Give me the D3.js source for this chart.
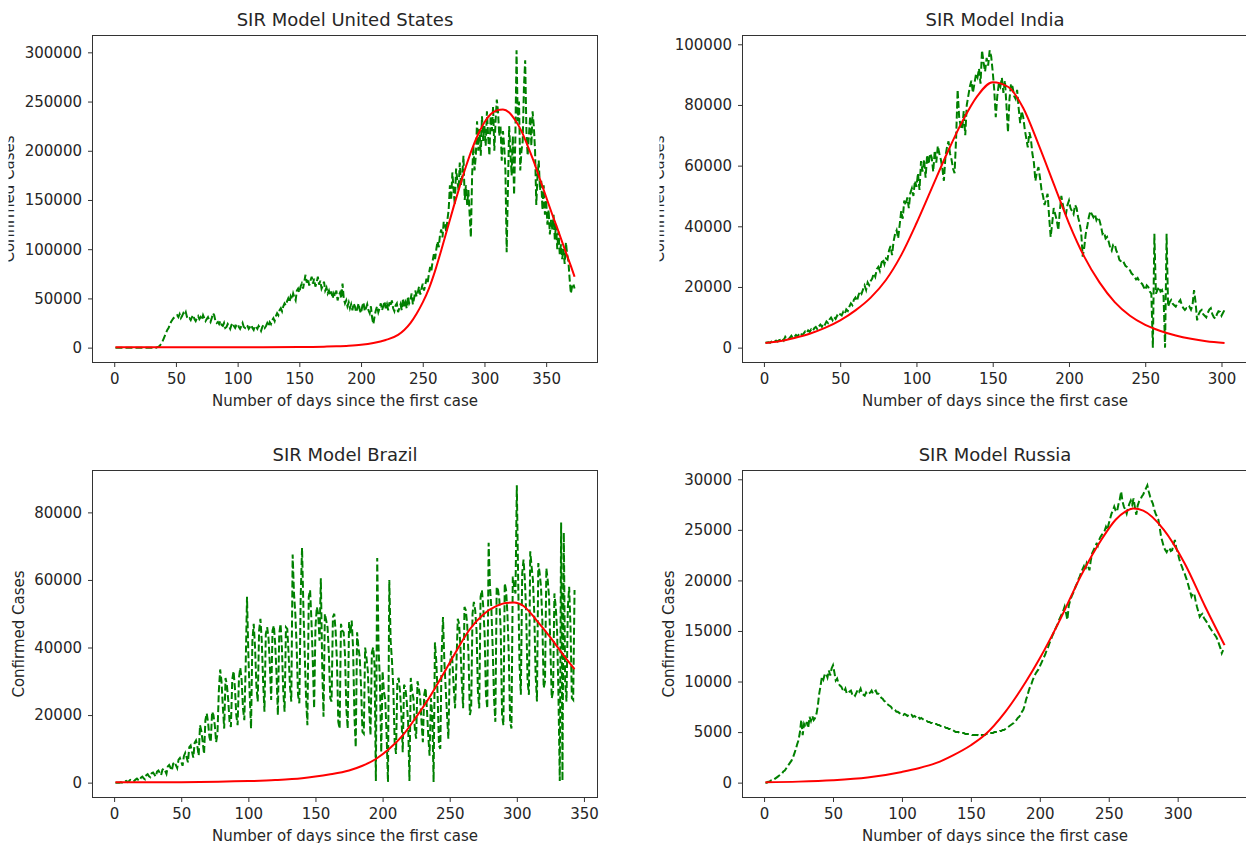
<!DOCTYPE html>
<html>
<head>
<meta charset="utf-8">
<script src="https://cdn.jsdelivr.net/npm/d3@7"></script>
<style>
  html, body { margin: 0; padding: 0; background: #fff; overflow: hidden; }
  svg { display: block; font-family: "DejaVu Sans", sans-serif; }
</style>
</head>
<body>
<svg id="chart" width="1246" height="843"></svg>
<script>
// Daily new confirmed cases (thousands), day 1 = first case.
const usDailyK = [
  0,0,0,0,0,0,0,0,0,0, 0,0,0,0,0,0,0,0,0,0, 0,0,0,0,0,0,0,0,0,0, 0,0,0,0,
  0.5,1,2,4,6,9,12,15,18,20,23,26,28,30,31,32,
  33,31,34,30,32,35,33,36,31,29,30,28,31,33,29,27,30,32,29,31,28,33,30,27,29,31,28,26,30,35,
  33,27,25,26,24,27,23,22,25,20, 21,24,22,19,23,25,22,20,23,24, 21,19,22,25,21,20,23,22,19,21,
  23,20,18,22,21,19,22,20,17,21, 23,20,22,25,22,
  26,24,28,30,27,32,35,33,38,40,37,42,45,43,47,50,46,52,49,55,51,48,58,60,56,62,65,60,67,74,
  66,70,63,68,72,65,70,62,66,72,64,68,60,63,67,58,61,55,58,53,57,50,55,52,58,48,53,56,50,65,
  50,45,48,42,46,40,44,38,45,42,36,40,45,38,35,42,46,37,40,44,38,35,42,30,24,32,38,42,36,40,
  45,38,42,47,40,44,38,46,42,48,40,37,43,45,36,40,44,38,50,42,46,40,52,45,48,55,44,50,58,52,
  56,62,54,60,65,58,63,70,66,75,82,78,88,95,90,100,108,102,115,120,112,128,125,118,130,
  140,165,150,178,160,145,182,170,160,188,165,175,195,150,165,145,160,135,112,175,
  205,180,195,230,200,222,195,235,210,225,
  205,240,215,195,235,220,245,200,230,252, 240,215,225,190,220,205,180,97,160,225,
  200,175,215,155,210,302,230,250,180,200, 210,265,292,220,195,215,235,205,240,225,
  200,145,175,190,160,170,140,165,135,150, 125,140,115,130,120,135,110,125,100,118,
  95,105,90,100,85,107,95,88,70,55, 62,65,60
];
const indiaDailyK = [
  1.6,1.7,1.8,1.6,2.0,1.9,2.1,2.3,2.0,2.5, 2.6,3.1,2.4,3.6,2.9,2.7,3.3,3.9,3.1,3.6,
  4.2,3.7,4.4,4.9,4.1,4.6,5.3,4.8,5.7,5.2, 6.0,5.5,6.4,6.8,6.1,7.0,7.6,6.9,8.1,7.6,
  8.6,8.1,9.3,9.9,9.0,10.1,9.5,10.6,10.1,11.0, 10.6,11.8,11.2,12.6,12.1,13.5,14.6,14.0,15.8,16.5,
  15.4,17.3,18.6,17.8,19.2,20.5,19.0,21.5,20.6,22.0, 22.8,24.5,23.4,25.9,26.6,25.3,27.8,29.2,27.5,29.4,
  29.0,32.0,33.5,30.5,35.0,37.5,38.7,36.0,40.5,45.0, 42.5,48.5,47.0,49.5,46.0,51.0,52.5,50.0,55.0,53.0,
  57.5,52.0,61.5,58.0,62.0,56.0,63.5,60.5,64.0,62.7, 58.0,65.0,61.0,66.5,64.0,62.0,59.0,55.0,63.0,66.0,
  68.0,64.0,62.0,59.0,57.5,69.0,85.0,76.0,73.0,72.0, 78.0,70.0,80.0,83.0,86.0,88.0,84.0,87.0,90.0,89.0,
  92.0,87.0,98.0,94.0,91.0,95.5,93.0,98.0,96.0,91.0, 85.0,76.0,83.0,87.0,86.0,89.0,84.0,88.0,80.0,71.0,
  82.0,87.0,86.0,83.0,82.0,85.0,79.0,74.0,78.0,76.0, 72.0,69.0,66.0,71.0,69.0,64.0,61.0,55.0,58.0,59.5,
  56.0,52.0,50.0,47.0,49.0,50.7,43.0,36.5,41.0,46.0, 44.0,42.0,38.7,45.0,50.0,47.0,45.0,44.0,47.0,48.5,
  46.0,45.0,44.0,47.0,46.0,43.0,41.0,38.0,30.0,33.0, 37.5,40.0,43.0,45.0,44.0,43.0,44.0,42.0,43.0,42.0,
  40.0,37.5,38.0,36.0,36.5,35.0,33.0,32.0,34.0,34.0, 32.0,31.0,29.0,28.5,27.7,28.0,27.0,26.6,26.0,25.5,
  24.5,24.0,23.3,22.5,23.0,22.0,21.5,21.0,20.0,19.0, 20.5,20.0,18.5,17.8,0.0,37.5,17.8,19.0,20.0,18.5,
  19.0,17.0,0.0,37.5,13.5,15.0,15.7,14.5,14.0,13.5, 14.5,15.0,15.7,14.0,13.0,12.4,13.0,12.8,13.5,12.5,
  14.0,19.0,15.0,9.0,11.0,12.0,12.4,11.0,10.5,10.0, 11.5,12.5,13.0,11.0,10.0,9.6,11.0,12.0,11.8,10.5,
  11.5,12.4
];
const brazilDailyK = [
  0,0,0,0,0.1,0,0.2, 0.3,0.5,0.2,0.4,0.8,0.6,0.3, 0.5,0.9,1.2,0.8,0.6,1.5,1.8,
  1.3,1.0,2.2,2.5,1.9,1.6,2.8, 3.0,2.4,1.8,3.3,3.6,2.9,2.2, 3.8,4.2,3.5,2.6,4.8,5.2,4.4,
  3.6,5.6,6.1,5.2,4.3,6.8,7.3, 6.2,5.0,7.9,8.8,7.5,6.0,10.5, 11,9.2,7.4,11.8,12.5,10.8,8,
  17,15.2,12,8.5,18.5,20.5,17.8, 13.5,12,21,20,17,12,14.5, 27,33.5,30,22.5,16,31,29,
  24.5,18,16.5,30.5,33,28,20, 17,31,34,30.5,22,18.5,34.5, 55,38,26,16,42,47,40,
  28.5,24,45,48.5,42,30,21, 44,46,43,35,24.5,45,46.5, 41,32,20,44,47,40,27,
  21,46,45.5,38,28.5,24,67.5, 56,50,40,26,23.5,55,69.5, 52,38,25,17,55,57,48,
  36,22,46,52,50,42,60.5, 35,19.5,50,48,46,38,25, 24,49,50,45,36,18,16,
  47,45,44.5,38,22,16,47.5, 44,48,40,20,10.5,44.5,40, 37,28,15,14.5,40,37,33,
  22,14,38.5,40,35,0.5,66.5, 40,30,9,33,27,24.5,14, 0.2,60,42,36,28,12,8.5,
  30,31,27,20,9,29,28, 24,18,0.5,31,27,25,16, 13,30,28,25,18,12,26,
  28,22,14,8,25,20,0.2, 41.5,36,26,11,10,38,49, 36,28,20,13,33,39,36,
  28,22,35,48.5,47,40,30, 22,52,51,47,38,20,22, 50,53.5,51,45,27,22,55,
  57,52,44,26,22,71,58, 52,40,25,18,58,57,54, 45,20,17,59,57,50,38,
  18,16,61,58,56,88,60, 35,26,62,66,60,50,30, 26,68.5,64,60,50,32,24,
  65,62,58,48,28,30,63.5, 60,55,40,25,27,56,52, 45,26,0.5,77,0.5,74,30,
  24,52,58,46,25,24.5,57
];
const russiaDailyK = [
  0.0,0.0,0.1,0.1,0.2,0.2,0.3,0.4,0.5,0.6, 0.7,0.8,0.9,1.1,1.2,1.4,1.6,1.8,2.0,2.2,
  2.5,2.9,3.3,3.8,4.2,5.0,6.2,4.7,5.8,5.5, 6.0,5.4,6.5,6.1,6.6,6.2,6.4,6.8,7.6,8.8,
  9.6,10.5,10.2,10.7,10.8,10.4,11.1,10.6,11.3,11.6, 10.9,10.1,10.3,9.8,9.6,9.5,9.2,9.0,9.3,8.8,
  8.9,9.0,9.1,8.7,8.8,8.6,8.9,9.2,9.0,9.3, 8.8,8.7,8.6,8.9,8.7,8.8,8.9,9.1,8.8,9.0,
  9.1,8.8,8.8,8.6,8.4,8.3,8.1,8.0,7.8,7.7, 7.6,7.5,7.3,7.3,7.2,7.0,7.0,6.9,6.8,6.8,
  6.7,6.8,6.7,6.6,6.7,6.6,6.7,6.5,6.6,6.5, 6.4,6.5,6.3,6.4,6.3,6.2,6.1,6.1,6.0,6.0,
  5.9,5.9,5.8,5.8,5.8,5.7,5.7,5.6,5.6,5.5, 5.5,5.4,5.4,5.3,5.3,5.2,5.2,5.1,5.0,5.0,
  5.0,4.9,4.9,4.9,4.9,4.8,4.8,4.8,4.8,4.8, 4.7,4.7,4.7,4.7,4.7,4.6,4.7,4.7,4.7,4.7,
  4.8,4.8,4.8,4.9,4.9,4.9,5.0,5.0,5.0,5.0, 5.1,5.1,5.2,5.2,5.3,5.4,5.5,5.6,5.7,5.8,
  5.9,6.1,6.2,6.4,6.5,6.7,7.0,7.2,7.6,8.2, 8.6,9.1,9.5,9.8,10.2,10.5,10.8,11.0,11.2,11.5,
  11.8,12.1,12.4,12.7,13.1,13.4,13.8,14.1,14.5,14.8, 15.1,15.4,15.7,16.1,16.4,16.7,17.0,17.4,16.8,16.1,
  17.5,18.0,18.4,18.7,19.0,19.4,19.7,20.1,20.4,20.8, 21.1,21.4,21.0,21.7,21.4,21.0,22.0,22.7,23.0,23.3,
  23.6,23.4,24.0,24.3,24.5,24.7,24.9,25.3,25.0,25.6, 26.1,26.6,26.9,27.3,26.9,26.8,27.5,28.0,28.8,27.8,
  27.3,27.0,26.6,27.2,27.6,27.9,27.5,28.1,27.2,26.5, 27.4,27.8,28.0,28.3,28.5,28.8,29.1,29.4,28.8,28.3,
  27.9,27.6,27.0,26.6,26.3,26.0,25.2,24.3,23.8,23.3, 23.0,22.8,23.1,23.2,22.9,23.0,23.6,24.0,23.2,22.8,
  22.2,21.7,21.4,21.0,20.7,20.3,19.9,19.4,18.9,18.4, 18.7,18.7,18.0,17.4,16.9,16.4,16.6,16.7,16.3,16.1,
  15.9,15.7,15.4,15.2,15.0,14.8,14.6,14.4,14.1,13.7, 13.3,12.8,13.1
];

// Fitted SIR curve (thousands of cases) at selected days.
const usFitDays = [1,50,100,150,170,180,190,200,210,220,230,235,240,245,250,255,260,265,270,275,280,285,290,295,300,305,310,315,320,325,330,335,340,345,350,355,360,365,370,373];
const usFitK    = [0.3,0.3,0.35,0.6,1.0,1.4,2.0,3.0,4.8,7.8,13.0,18.0,25.0,34.5,46,60,78,99,121,143,164,184,202,217,229,237,241,242,239,231,220,205,189,171,153,135,118,100,83,72];
const indiaFitDays = [1,10,20,30,40,50,60,70,80,90,100,110,120,130,140,150,160,170,180,190,200,210,220,230,240,250,260,270,280,290,302];
const indiaFitK    = [1.5,2.1,3.2,4.6,6.5,9.0,12.3,16.5,22.3,30.5,41.0,52.5,64,74.5,83,87.5,86,79,67,54,41,30,21.5,15,10.5,7.5,5.5,4.0,2.9,2.1,1.5];
const brazilFitDays = [1,50,100,120,140,150,160,175,185,195,205,215,225,235,245,255,265,275,285,292,298,305,315,325,335,343];
const brazilFitK    = [0.1,0.15,0.45,0.75,1.3,1.8,2.4,3.6,5.0,7.0,10,14,19.4,25.3,32,39,45.4,49.8,52.3,53.2,53.3,52.3,47.9,43,37.6,33.6];
const russiaFitDays = [1,25,50,75,100,112,125,137,150,160,175,190,200,215,230,245,255,262,268,275,290,305,320,334];
const russiaFitK    = [0.05,0.1,0.23,0.5,1.06,1.42,1.95,2.7,3.7,4.7,7.0,10.0,12.3,16.2,20.5,24.1,26.0,26.8,27.1,26.9,25.0,21.7,17.4,13.6];

// Tick values
const usXTicks = [0,50,100,150,200,250,300,350];
const usYTicks = [0,50000,100000,150000,200000,250000,300000];
const indiaXTicks = [0,50,100,150,200,250,300];
const indiaYTicks = [0,20000,40000,60000,80000,100000];
const brazilXTicks = [0,50,100,150,200,250,300,350];
const brazilYTicks = [0,20000,40000,60000,80000];
const russiaXTicks = [0,50,100,150,200,250,300];
const russiaYTicks = [0,5000,10000,15000,20000,25000,30000];

const panels = [
  { title: "SIR Model United States", daily: usDailyK, fitDays: usFitDays, fit: usFitK, xTicks: usXTicks, yTicks: usYTicks },
  { title: "SIR Model India", daily: indiaDailyK, fitDays: indiaFitDays, fit: indiaFitK, xTicks: indiaXTicks, yTicks: indiaYTicks },
  { title: "SIR Model Brazil", daily: brazilDailyK, fitDays: brazilFitDays, fit: brazilFitK, xTicks: brazilXTicks, yTicks: brazilYTicks },
  { title: "SIR Model Russia", daily: russiaDailyK, fitDays: russiaFitDays, fit: russiaFitK, xTicks: russiaXTicks, yTicks: russiaYTicks }
];

// Subplot placement; the top row's y labels are partly hidden left of `labelClip`.
const layout = [
  { left: 92.5,  top: 35.5,  labelClip: 8.5 },
  { left: 742.5, top: 35.5,  labelClip: 659.5 },
  { left: 92.5,  top: 470.5, labelClip: null },
  { left: 742.5, top: 470.5, labelClip: null }
];
const PW = 505, PH = 327;
const TEXT = "#262626", SPINE = "#333";

const svg = d3.select("#chart");
svg.append("rect").attr("width", 1246).attr("height", 843).attr("fill", "#fff");
const defs = svg.append("defs");

panels.forEach((p, k) => {
  const L = layout[k];
  const obs = p.daily.map((v, i) => ({ day: i + 1, cases: v * 1000 }));
  const fit = p.fitDays.map((d, i) => ({ day: d, cases: p.fit[i] * 1000 }));
  const all = obs.concat(fit);

  // Axis limits with 5% margins around the data
  const [x0, x1] = d3.extent(all, d => d.day);
  const [y0, y1] = d3.extent(all, d => d.cases);
  const dx = (x1 - x0) * 0.05, dy = (y1 - y0) * 0.05;
  const x = d3.scaleLinear().domain([x0 - dx, x1 + dx]).range([0, PW]);
  const y = d3.scaleLinear().domain([y0 - dy, y1 + dy]).range([PH, 0]);

  const g = svg.append("g").attr("transform", `translate(${L.left},${L.top})`);

  const clipId = "plot-clip-" + k;
  defs.append("clipPath").attr("id", clipId)
    .append("rect").attr("width", PW).attr("height", PH);

  const plot = g.append("g").attr("clip-path", `url(#${clipId})`);

  plot.append("path")
    .datum(obs)
    .attr("fill", "none")
    .attr("stroke", "#008000")
    .attr("stroke-width", 2)
    .attr("stroke-dasharray", "7,3")
    .attr("d", d3.line().x(d => x(d.day)).y(d => y(d.cases)));

  plot.append("path")
    .datum(fit)
    .attr("fill", "none")
    .attr("stroke", "#ff0000")
    .attr("stroke-width", 2)
    .attr("d", d3.line().curve(d3.curveMonotoneX).x(d => x(d.day)).y(d => y(d.cases)));

  // Axes
  const xa = g.append("g").attr("transform", `translate(0,${PH})`)
    .call(d3.axisBottom(x).tickValues(p.xTicks).tickFormat(d3.format("d")).tickSize(4.5).tickPadding(6));
  const ya = g.append("g")
    .call(d3.axisLeft(y).tickValues(p.yTicks).tickFormat(d3.format("d")).tickSize(4.5).tickPadding(6));
  [xa, ya].forEach(a => {
    a.select(".domain").remove();
    a.selectAll(".tick line").attr("stroke", SPINE).attr("stroke-width", 1);
    a.selectAll(".tick text").attr("fill", TEXT).style("font-size", "15px").style("font-family", '"DejaVu Sans", sans-serif');
  });

  // Frame
  g.append("rect").attr("width", PW).attr("height", PH)
    .attr("fill", "none").attr("stroke", SPINE).attr("stroke-width", 1);

  // Title
  g.append("text")
    .attr("x", PW / 2).attr("y", -9.5)
    .attr("text-anchor", "middle")
    .attr("fill", TEXT)
    .style("font-size", "18px")
    .text(p.title);

  // X label
  g.append("text")
    .attr("x", PW / 2).attr("y", PH + 43)
    .attr("text-anchor", "middle")
    .attr("fill", TEXT)
    .style("font-size", "15px")
    .text("Number of days since the first case");

  // Y label, placed clear of the widest tick label
  let maxW = 0;
  ya.selectAll(".tick text").each(function () { maxW = Math.max(maxW, this.getComputedTextLength()); });
  const yLabelX = -(maxW + 4.5 + 6 + 6 + 3.5 + 1);
  let labelHost = g;
  if (L.labelClip !== null) {
    const lid = "ylabel-clip-" + k;
    defs.append("clipPath").attr("id", lid)
      .append("rect")
      .attr("x", L.labelClip - L.left).attr("y", -10)
      .attr("width", L.left - L.labelClip).attr("height", PH + 20);
    labelHost = g.append("g").attr("clip-path", `url(#${lid})`);
  }
  labelHost.append("text")
    .attr("transform", `translate(${yLabelX},${PH / 2}) rotate(-90)`)
    .attr("text-anchor", "middle")
    .attr("fill", TEXT)
    .style("font-size", "15px")
    .text("Confirmed Cases");
});
</script>
</body>
</html>
